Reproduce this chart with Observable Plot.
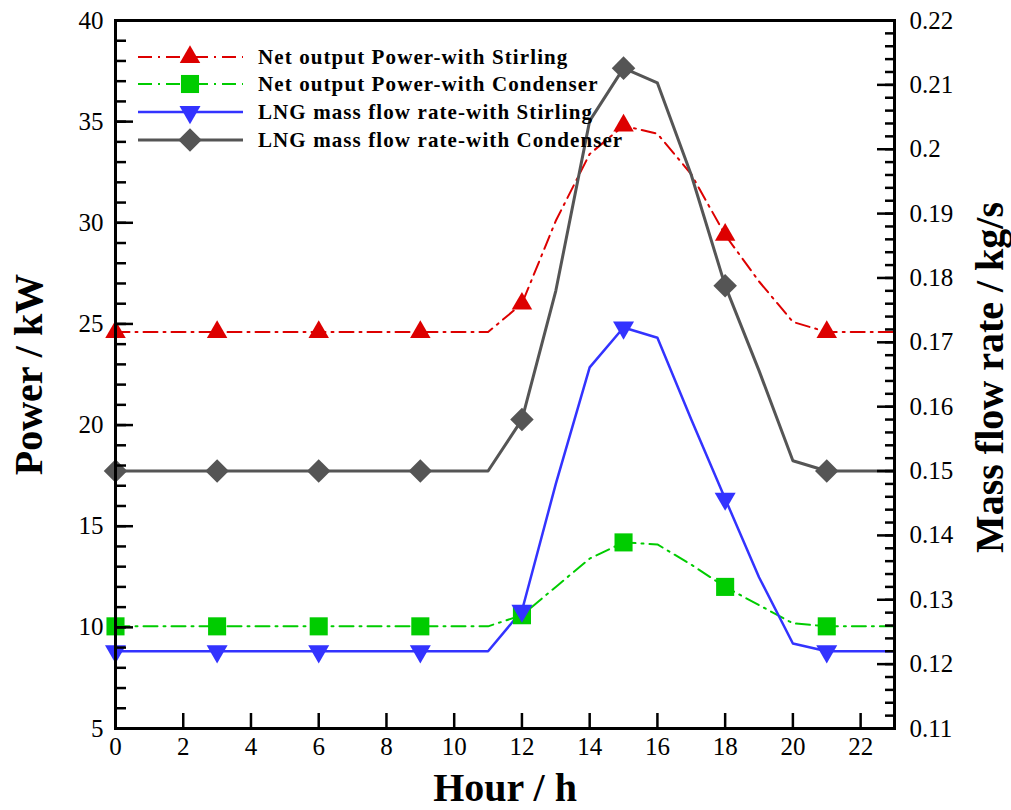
<!DOCTYPE html>
<html>
<head>
<meta charset="utf-8">
<script src="https://cdn.jsdelivr.net/npm/d3@7"></script>
<script src="https://cdn.jsdelivr.net/npm/@observablehq/plot@0.6"></script>
<style>
  body { margin: 0; background: #fff; }
  #wrap { position: relative; width: 1011px; height: 810px; }
  #legend { position: absolute; left: 0; top: 0; }
</style>
</head>
<body>
<div id="wrap"><div id="chart"></div><svg id="legend" width="1011" height="200"></svg></div>
<script>
// ---- data ----
const hours = [0,1,2,3,4,5,6,7,8,9,10,11,12,13,14,15,16,17,18,19,20,21,22,23];
const powerStirling   = [24.6,24.6,24.6,24.6,24.6,24.6,24.6,24.6,24.6,24.6,24.6,24.6,26.0,30.1,33.4,34.8,34.4,32.4,29.4,27.1,25.1,24.6,24.6,24.6];
const powerCondenser  = [10.05,10.05,10.05,10.05,10.05,10.05,10.05,10.05,10.05,10.05,10.05,10.05,10.6,12.0,13.4,14.2,14.1,13.1,12.0,11.1,10.2,10.05,10.05,10.05];
const massStirling    = [0.122,0.122,0.122,0.122,0.122,0.122,0.122,0.122,0.122,0.122,0.122,0.122,0.1283,0.148,0.1661,0.1723,0.1707,0.158,0.1457,0.1335,0.1232,0.122,0.122,0.122];
const massCondenser   = [0.15,0.15,0.15,0.15,0.15,0.15,0.15,0.15,0.15,0.15,0.15,0.15,0.158,0.178,0.2044,0.2126,0.2103,0.196,0.1788,0.1656,0.1516,0.15,0.15,0.15];
const markerHours = [0,3,6,9,12,15,18,21];
const seriesNames = [
  "Net output Power-with Stirling",
  "Net output Power-with Condenser",
  "LNG mass flow rate-with Stirling",
  "LNG mass flow rate-with Condenser"
];
const xTicks = [0,2,4,6,8,10,12,14,16,18,20,22];
const leftTicks = [5,10,15,20,25,30,35,40];
const rightTicks = [0.11,0.12,0.13,0.14,0.15,0.16,0.17,0.18,0.19,0.2,0.21,0.22];

// ---- mapping right axis onto left scale ----
const P0 = 5, P1 = 40, M0 = 0.11, M1 = 0.22;
const toP = m => P0 + (m - M0) * (P1 - P0) / (M1 - M0);
const toM = p => M0 + (p - P0) * (M1 - M0) / (P1 - P0);

const styles = [
  {color: "#dd0000", dash: "14,6,2,6", width: 2, symbol: "triangle", rotate: 0, r: 7.6},
  {color: "#00cc00", dash: "14,6,2,6", width: 2, symbol: "square", rotate: 0, r: 10.2},
  {color: "#3333ff", dash: null, width: 2.5, symbol: "triangle", rotate: 180, r: 7.8},
  {color: "#555555", dash: null, width: 3, symbol: "diamond2", rotate: 0, r: 10.6}
];
const values = [powerStirling, powerCondenser, massStirling.map(toP), massCondenser.map(toP)];

const tables = values.map(v => hours.map((h, i) => ({h, v: v[i]})));

const font = "'Liberation Serif', 'Times New Roman', serif";
const leftMinor = d3.range(5, 41, 1);
const rightMinor = d3.range(55, 111).map(i => toP(i * 0.002));

const marks = [];
tables.forEach((t, i) => {
  const s = styles[i];
  marks.push(Plot.line(t, {x: "h", y: "v", stroke: s.color, strokeWidth: s.width, strokeDasharray: s.dash}));
});
tables.forEach((t, i) => {
  const s = styles[i];
  marks.push(Plot.dot(t.filter(d => markerHours.includes(d.h)), {x: "h", y: "v", symbol: () => s.symbol, fill: s.color, stroke: "none", r: s.r, rotate: s.rotate}));
});

marks.push(
  Plot.axisY(leftMinor, {anchor: "left", label: null, tickSize: -11, tickFormat: () => "", strokeWidth: 2.5}),
  Plot.axisY(leftTicks, {anchor: "left", label: null, tickSize: -18, tickPadding: 30, strokeWidth: 2.5, fontSize: 25, tickFormat: d => String(d)}),
  Plot.axisY(rightMinor, {anchor: "right", label: null, tickSize: -10, tickFormat: () => "", strokeWidth: 2.5}),
  Plot.axisY(rightTicks.map(toP), {anchor: "right", label: null, tickSize: -18, tickPadding: 33, strokeWidth: 2.5, fontSize: 25, tickFormat: d => String(+toM(d).toFixed(3))}),
  Plot.axisX(xTicks, {anchor: "bottom", label: null, tickSize: -15, tickPadding: 24, strokeWidth: 2.5, fontSize: 25, tickFormat: d => String(d)}),
  Plot.frame({stroke: "black", strokeWidth: 3}),
  Plot.text(["Power / kW"], {frameAnchor: "left", textAnchor: "middle", rotate: -90, dx: -86, fontSize: 40, fontWeight: "bold", fill: "black"}),
  Plot.text(["Hour / h"], {frameAnchor: "bottom", textAnchor: "middle", dy: 72, fontSize: 40, fontWeight: "bold", fill: "black"}),
  Plot.text(["Mass flow rate / kg/s"], {frameAnchor: "right", textAnchor: "middle", rotate: -90, dx: 96, dy: 3, fontSize: 40, fontWeight: "bold", fill: "black", letterSpacing: 1})
);

const chart = Plot.plot({
  width: 1011,
  height: 810,
  marginLeft: 115,
  marginRight: 117,
  marginTop: 20,
  marginBottom: 82,
  style: {fontFamily: font, background: "white", color: "black"},
  x: {domain: [0, 23]},
  y: {domain: [5, 40]},
  marks
});
document.getElementById("chart").appendChild(chart);

// ---- legend (overlay) ----
const leg = d3.select("#legend");
const rowY = [57, 84, 112, 140];
const symType = {triangle: d3.symbolTriangle, square: d3.symbolSquare, diamond2: d3.symbolDiamond2};
seriesNames.forEach((name, i) => {
  const s = styles[i];
  const g = leg.append("g").attr("transform", `translate(0,${rowY[i]})`);
  g.append("line").attr("x1", 138).attr("x2", 243).attr("y1", 0).attr("y2", 0)
    .attr("stroke", s.color).attr("stroke-width", s.width)
    .attr("stroke-dasharray", s.dash);
  g.append("path").attr("d", d3.symbol(symType[s.symbol], Math.PI * s.r * s.r)())
    .attr("transform", `translate(190,0) rotate(${s.rotate})`)
    .attr("fill", s.color);
  g.append("text").attr("x", 258).attr("y", 0).attr("dy", "0.35em")
    .attr("font-family", font).attr("font-weight", "bold").attr("font-size", 21)
    .attr("letter-spacing", 1.1).attr("fill", "black").text(name);
});
</script>
</body>
</html>
